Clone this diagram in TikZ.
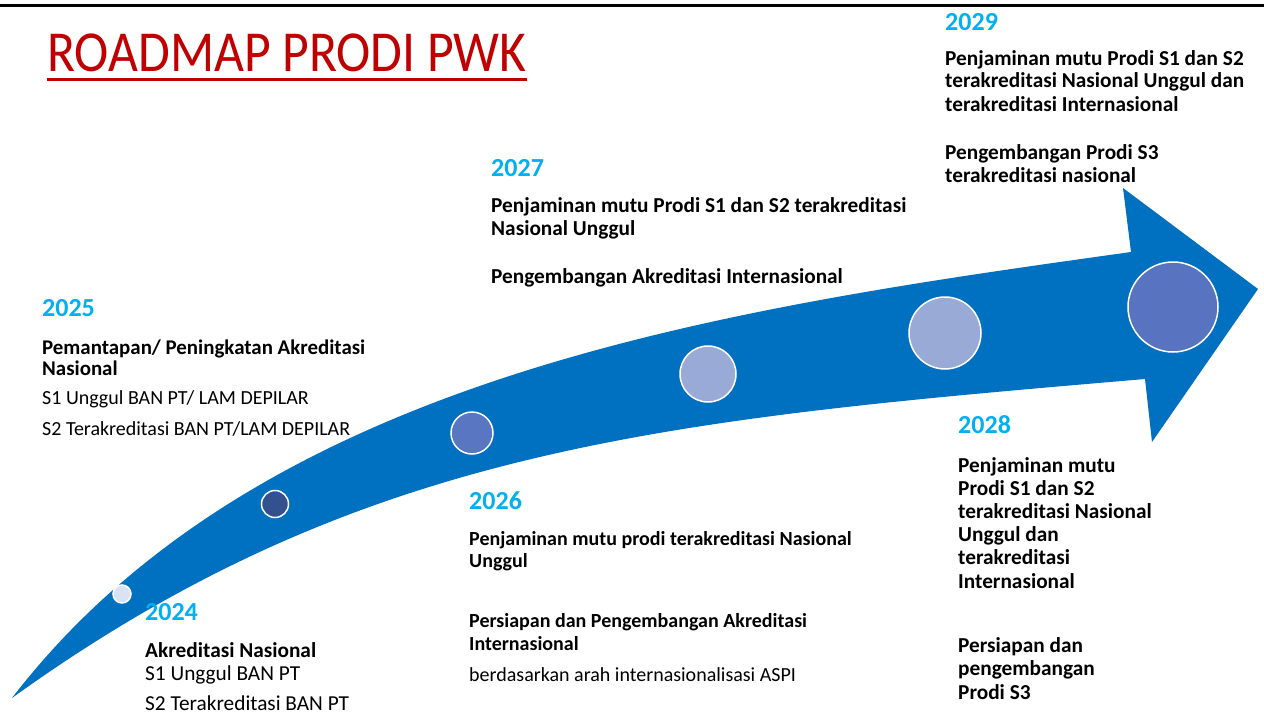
\documentclass[tikz,border=0pt]{standalone}
\usepackage{fontspec}
\setmainfont{Carlito}
\newfontfamily\titlefont[FakeStretch=0.89]{Carlito}
\definecolor{arrowblue}{HTML}{0070C0}
\definecolor{yearblue}{HTML}{00B0F0}
\definecolor{titlered}{HTML}{C00000}
\definecolor{cA}{HTML}{DAE3F3}
\definecolor{cB}{HTML}{33508F}
\definecolor{cC}{HTML}{5876C1}
\definecolor{cD}{HTML}{9AAAD6}
\definecolor{cE}{HTML}{5874C0}
\tikzset{
  txt/.style={inner sep=0pt, anchor=base west},
  year/.style={txt, text=yearblue, font=\fontsize{26}{30}\selectfont\bfseries},
  bline/.style={txt, font=\fontsize{21.3}{25}\selectfont\bfseries},
  rline/.style={txt, font=\fontsize{21.3}{25}\selectfont},
  bmid/.style={txt, font=\fontsize{20.9}{25}\selectfont\bfseries},
  bsmall/.style={txt, font=\fontsize{20}{24}\selectfont\bfseries},
  rsmall/.style={txt, font=\fontsize{20}{24}\selectfont},
  titletxt/.style={txt, text=titlered, font=\titlefont\fontsize{58}{64}\selectfont},
  dot/.style={circle, draw=white, line width=1.5pt, inner sep=0pt},
}
\begin{document}
\begin{tikzpicture}[x=1pt,y=-1pt]
\useasboundingbox (0,0) rectangle (1264,717);
\fill[white] (0,0) rectangle (1264,717);
% top rule
\draw[line width=3pt] (0,5.5) -- (1264,5.5);
% title
\node[titletxt] (title) at (47,72) {ROADMAP PRODI PWK};
\draw[titlered, line width=3pt] ([yshift=-7.5pt]title.base west) -- ([yshift=-7.5pt]title.base east);
% arrow
\coordinate (tail) at (12,698);
\coordinate (uj) at (1131,252);
\coordinate (ht) at (1123,188);
\coordinate (tip) at (1258,289);
\coordinate (hb) at (1152,442);
\coordinate (lj) at (1145,379);
\fill[arrowblue] (tail) .. controls (262,373) and (731,308) .. (uj)
  -- (ht) -- (tip) -- (hb) -- (lj)
  .. controls (665,420) and (362,446) .. (tail) -- cycle;
% dots
\node[dot, fill=cA, minimum size=18pt] (d1) at (122,594) {};
\node[dot, fill=cB, minimum size=27pt] (d2) at (275,504) {};
\node[dot, fill=cC, minimum size=42pt] (d3) at (472,433) {};
\node[dot, fill=cD, minimum size=56pt] (d4) at (708,374) {};
\node[dot, fill=cD, minimum size=72pt] (d5) at (945,333) {};
\node[dot, fill=cE, minimum size=90pt] (d6) at (1173,307) {};
% 2024
\node[year] (y24) at (145,620) {2024};
\node[bline] (t24a) at (145,657) {Akreditasi Nasional};
\node[rline] (t24b) at (145,680) {S1 Unggul BAN PT};
\node[rline] (t24c) at (145,710) {S2 Terakreditasi BAN PT};
% 2025
\node[year] (y25) at (42,316) {2025};
\node[bmid] (t25a) at (42,354) {Pemantapan/ Peningkatan Akreditasi};
\node[bmid] (t25b) at (42,375) {Nasional};
\node[rsmall] (t25c) at (42,404) {S1 Unggul BAN PT/ LAM DEPILAR};
\node[rsmall] (t25d) at (42,435) {S2 Terakreditasi BAN PT/LAM DEPILAR};
% 2026
\node[year] (y26) at (469,509) {2026};
\node[bsmall] (t26a) at (469,545) {Penjaminan mutu prodi terakreditasi Nasional};
\node[bsmall] (t26b) at (469,567) {Unggul};
\node[bsmall] (t26c) at (469,627) {Persiapan dan Pengembangan Akreditasi};
\node[bsmall] (t26d) at (469,650) {Internasional};
\node[rsmall] (t26e) at (469,681) {berdasarkan arah internasionalisasi ASPI};
% 2027
\node[year] (y27) at (491,176) {2027};
\node[bline] (t27a) at (491,212) {Penjaminan mutu Prodi S1 dan S2 terakreditasi};
\node[bline] (t27b) at (491,235) {Nasional Unggul};
\node[bline] (t27c) at (491,283) {Pengembangan Akreditasi Internasional};
% 2028
\node[year] (y28) at (958,433) {2028};
\node[bline] (t28a) at (958,472) {Penjaminan mutu};
\node[bline] (t28b) at (958,495) {Prodi S1 dan S2};
\node[bline] (t28c) at (958,518) {terakreditasi Nasional};
\node[bline] (t28d) at (958,541) {Unggul dan};
\node[bline] (t28e) at (958,564) {terakreditasi};
\node[bline] (t28f) at (958,588) {Internasional};
\node[bline] (t28g) at (958,652) {Persiapan dan};
\node[bline] (t28h) at (958,675) {pengembangan};
\node[bline] (t28i) at (958,699) {Prodi S3};
% 2029
\node[year] (y29) at (945,31) {2029};
\node[bline] (t29a) at (945,66) {Penjaminan mutu Prodi S1 dan S2};
\node[bline] (t29b) at (945,88) {terakreditasi Nasional Unggul dan};
\node[bline] (t29c) at (945,111) {terakreditasi Internasional};
\node[bline] (t29d) at (945,159) {Pengembangan Prodi S3};
\node[bline] (t29e) at (945,182) {terakreditasi nasional};
\end{tikzpicture}
\end{document}
